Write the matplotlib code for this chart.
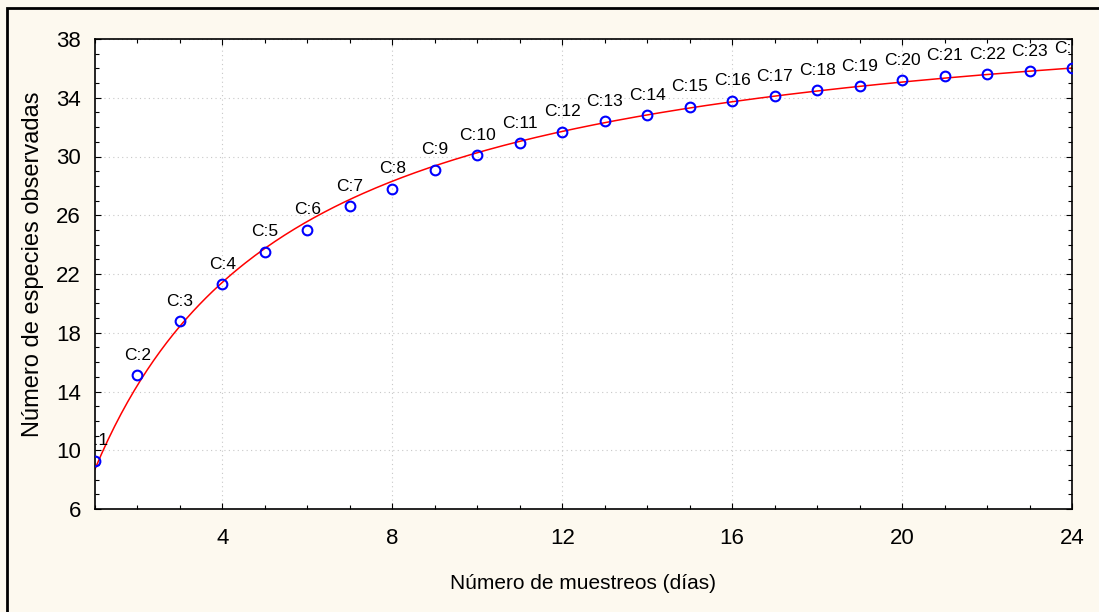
import numpy as np
import matplotlib.pyplot as plt
from matplotlib import font_manager
from matplotlib.patches import Rectangle
from matplotlib.ticker import MultipleLocator

# muestreos (dias) y especies acumuladas observadas
dias = np.arange(1, 25)
especies = [9.3, 15.1, 18.8, 21.3, 23.5, 25.0, 26.6, 27.8, 29.1, 30.1,
            30.9, 31.7, 32.4, 32.8, 33.4, 33.8, 34.1, 34.5, 34.8, 35.2,
            35.5, 35.6, 35.8, 36.0]
etiquetas = [f"C:{d}" for d in dias]

nombres = {f.name for f in font_manager.fontManager.ttflist}
fuente = "Liberation Sans Narrow" if "Liberation Sans Narrow" in nombres else "Liberation Sans"
plt.rcParams["font.family"] = [fuente, "DejaVu Sans"]

# ajuste de Clench S = a*x / (1 + b*x), linealizado como x/S = 1/a + (b/a)*x
y = np.array(especies)
pend, inter = np.polyfit(dias, dias / y, 1)
a = 1.0 / inter
b = pend * a
xs = np.linspace(1, 24, 300)
ys = a * xs / (1 + b * xs)

fig = plt.figure(figsize=(10.99, 6.12), dpi=100, facecolor="#fdf9ef")
fig.patches.append(Rectangle((7 / 1099, -0.05), 1.2, 1 - 8 / 612 + 0.05,
                             transform=fig.transFigure, fill=False,
                             edgecolor="black", linewidth=2, zorder=0))
ax = fig.add_axes([95 / 1099, 1 - 509 / 612, (1072 - 95) / 1099, (509 - 39) / 612])
ax.set_facecolor("white")

ax.plot(xs, ys, color="red", lw=1.1, zorder=2)
ax.plot(dias, especies, "o", ms=7, mfc="none", mec="blue", mew=1.5, zorder=3)
for xi, yi, t in zip(dias, especies, etiquetas):
    ax.annotate(t, (xi, yi), xytext=(0, 9), textcoords="offset points",
                ha="center", va="bottom", fontsize=12.5, clip_on=True,
                annotation_clip=False)

ax.set_xlim(1, 24)
ax.set_ylim(6, 38)
ax.xaxis.set_minor_locator(MultipleLocator(1))
ax.yaxis.set_minor_locator(MultipleLocator(1))
ax.set_yticks(np.arange(6, 39, 4))
ax.set_xticks([4, 8, 12, 16, 20, 24])
ax.tick_params(which="both", direction="in", top=True, right=True,
               labelsize=16, width=0.8)
ax.tick_params(which="major", length=4)
ax.tick_params(axis="x", which="major", pad=14)
ax.tick_params(axis="y", which="major", pad=10)
ax.tick_params(which="minor", length=3)
ax.grid(True, which="major", ls=(0, (1, 3)), color="#c8c8c8", lw=0.8)
for s in ax.spines.values():
    s.set_linewidth(1.2)

ax.set_xlabel("Número de muestreos (días)", fontsize=15, labelpad=18)
ax.set_ylabel("Número de especies observadas", fontsize=17)
ax.yaxis.set_label_coords(-0.052, 0.52)

fig.savefig("out.png", dpi=100, facecolor=fig.get_facecolor())
